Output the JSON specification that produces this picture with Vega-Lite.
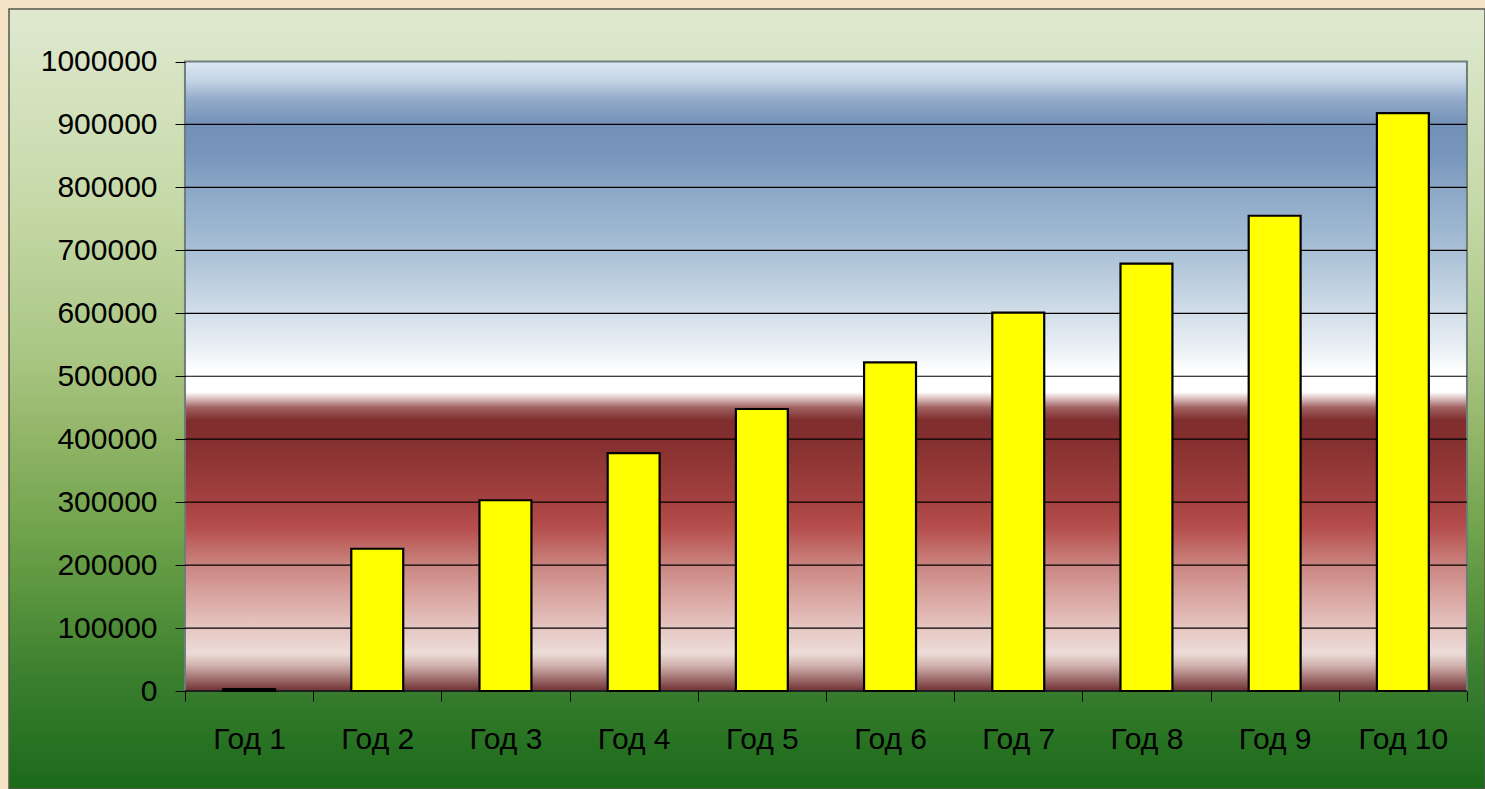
{
  "$schema": "https://vega.github.io/schema/vega-lite/v6.json",
  "width": 1476,
  "height": 780,
  "autosize": "none",
  "padding": {"left": 9, "top": 9, "right": 0, "bottom": 0},
  "background": "#f3e2c3",
  "config": {
    "view": {
      "fill": {
        "gradient": "linear", "x1": 0, "y1": 0, "x2": 0, "y2": 1,
        "stops": [
          {"offset": 0.0, "color": "#dfe9d0"},
          {"offset": 0.25, "color": "#c6d9a8"},
          {"offset": 0.45, "color": "#a9c582"},
          {"offset": 0.55, "color": "#91b567"},
          {"offset": 0.65, "color": "#75a650"},
          {"offset": 0.75, "color": "#5a953d"},
          {"offset": 0.85, "color": "#3c8030"},
          {"offset": 1.0, "color": "#1a6a1a"}
        ]
      },
      "stroke": "#55584f",
      "strokeWidth": 1.5
    },
    "font": "Liberation Sans"
  },
  "datasets": {
    "bars": [
      {"year": "Год 1", "value": 3000},
      {"year": "Год 2", "value": 226000},
      {"year": "Год 3", "value": 303000},
      {"year": "Год 4", "value": 378000},
      {"year": "Год 5", "value": 448000},
      {"year": "Год 6", "value": 522000},
      {"year": "Год 7", "value": 601000},
      {"year": "Год 8", "value": 679000},
      {"year": "Год 9", "value": 755000},
      {"year": "Год 10", "value": 918000}
    ],
    "grid": [
      {"v": 100000}, {"v": 200000}, {"v": 300000}, {"v": 400000}, {"v": 500000},
      {"v": 600000}, {"v": 700000}, {"v": 800000}, {"v": 900000}
    ]
  },
  "layer": [
    {
      "data": {"values": [{}]},
      "mark": {
        "type": "rect",
        "stroke": "#6e7c7c",
        "strokeWidth": 2,
        "fill": {
          "gradient": "linear", "x1": 0, "y1": 0, "x2": 0, "y2": 1,
          "stops": [
            {"offset": 0.0, "color": "#dce7f2"},
            {"offset": 0.03, "color": "#c3d4e5"},
            {"offset": 0.06, "color": "#93abca"},
            {"offset": 0.10, "color": "#7390b8"},
            {"offset": 0.15, "color": "#7895bc"},
            {"offset": 0.20, "color": "#8aa7c7"},
            {"offset": 0.30, "color": "#a8bfd5"},
            {"offset": 0.40, "color": "#d2dee9"},
            {"offset": 0.46, "color": "#ecf1f6"},
            {"offset": 0.49, "color": "#ffffff"},
            {"offset": 0.525, "color": "#ffffff"},
            {"offset": 0.538, "color": "#d2aeae"},
            {"offset": 0.55, "color": "#a06060"},
            {"offset": 0.57, "color": "#7f2d2d"},
            {"offset": 0.60, "color": "#842f2f"},
            {"offset": 0.70, "color": "#a44240"},
            {"offset": 0.74, "color": "#b54e4c"},
            {"offset": 0.80, "color": "#ca8480"},
            {"offset": 0.86, "color": "#dcaca8"},
            {"offset": 0.90, "color": "#e6c6c2"},
            {"offset": 0.94, "color": "#ecdcd8"},
            {"offset": 0.96, "color": "#d0b0ac"},
            {"offset": 0.98, "color": "#a07070"},
            {"offset": 1.0, "color": "#703030"}
          ]
        }
      },
      "encoding": {
        "x": {"datum": "Год 1", "type": "nominal", "bandPosition": 0,
              "scale": {"domain": ["Год 1","Год 2","Год 3","Год 4","Год 5","Год 6","Год 7","Год 8","Год 9","Год 10"],
                        "paddingInner": 0, "paddingOuter": 0.7566, "align": 0.907},
              "axis": {
                "orient": "bottom", "offset": -98, "domain": false, "tickBand": "extent",
                "tickSize": 10, "tickColor": "#000000", "tickWidth": 1,
                "labelFontSize": 30, "labelAngle": 0, "labelPadding": 23, "labelColor": "#000000",
                "labelFont": "Liberation Sans", "title": null, "grid": false, "zindex": 1
              }},
        "x2": {"datum": "Год 10", "bandPosition": 1},
        "y": {"datum": 0, "type": "quantitative",
              "scale": {"domain": [-155679, 1083400], "nice": false, "zero": false},
              "axis": {
                "values": [0, 100000, 200000, 300000, 400000, 500000, 600000, 700000, 800000, 900000, 1000000],
                "format": "d", "offset": -176, "domain": false, "grid": false,
                "tickSize": 10, "tickColor": "#000000", "tickWidth": 1,
                "labelFontSize": 30, "labelPadding": 18, "labelColor": "#000000",
                "labelFont": "Liberation Sans", "title": null, "zindex": 1
              }},
        "y2": {"datum": 1000000}
      }
    },
    {
      "data": {"name": "grid"},
      "mark": {"type": "rule", "color": "#000000", "strokeWidth": 1.2},
      "encoding": {
        "x": {"datum": "Год 1", "type": "nominal", "bandPosition": 0},
        "x2": {"datum": "Год 10", "bandPosition": 1},
        "y": {"field": "v", "type": "quantitative"}
      }
    },
    {
      "data": {"name": "bars"},
      "mark": {"type": "bar", "fill": "#ffff00", "stroke": "#000000", "strokeWidth": 2.2, "width": {"band": 0.405}},
      "encoding": {
        "x": {"field": "year", "type": "nominal"},
        "y": {"field": "value", "type": "quantitative"}
      }
    },
    {
      "data": {"values": [{}]},
      "mark": {"type": "rule", "color": "#000000", "strokeWidth": 1.5},
      "encoding": {
        "x": {"datum": "Год 1", "type": "nominal", "bandPosition": 0},
        "x2": {"datum": "Год 10", "bandPosition": 1},
        "y": {"datum": 0, "type": "quantitative"}
      }
    }
  ]
}
